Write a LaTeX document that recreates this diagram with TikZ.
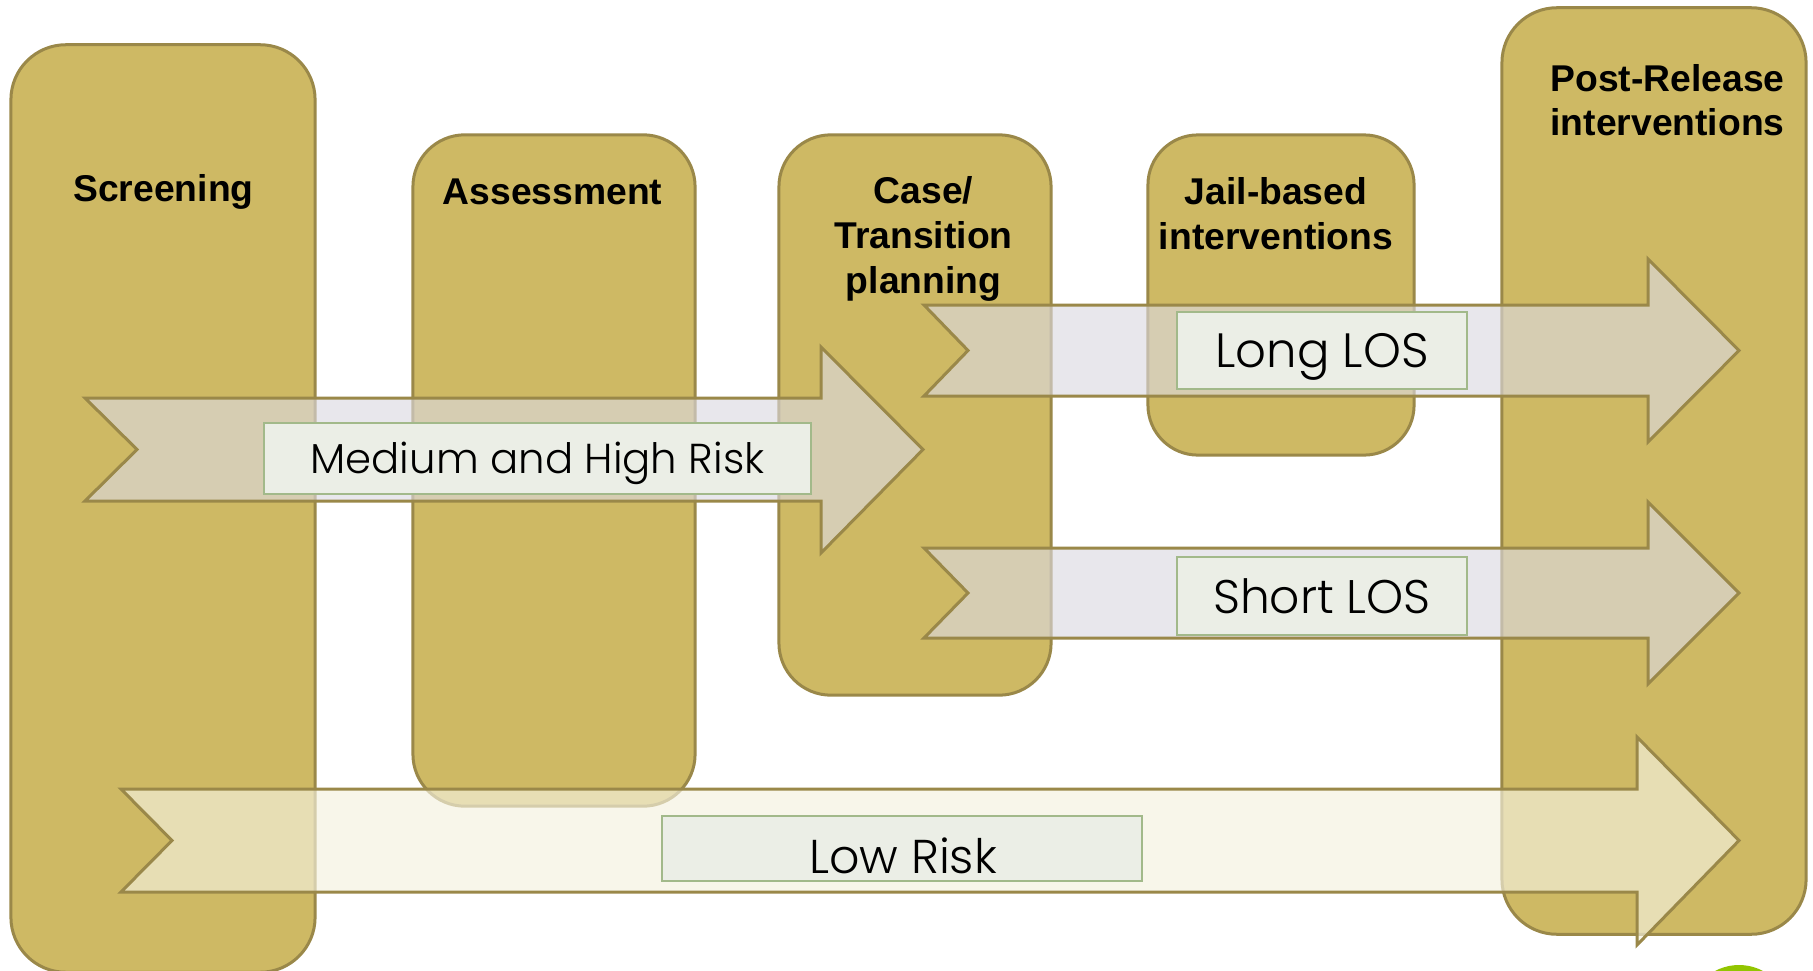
\documentclass[tikz,border=0pt]{standalone}
\usepackage{fontspec}
\setmainfont{Liberation Sans}
\newfontfamily\labelfont{Poppins Light}
\definecolor{tanfill}{HTML}{CEB964}
\definecolor{tanline}{HTML}{9A8849}
\definecolor{ribbonfill}{HTML}{DCD9E1}
\definecolor{lowfill}{HTML}{F5F2E0}
\definecolor{tagfill}{HTML}{EBEEE6}
\definecolor{tagline}{HTML}{A2B98A}
\definecolor{badge}{HTML}{92C500}
\tikzset{
  panel/.style={draw=tanline,fill=tanfill,line width=0.03cm,rectangle,inner sep=0pt},
  heading/.style={font=\fontsize{10.6pt}{12.66pt}\selectfont\bfseries,align=center,anchor=base,inner sep=0pt,text=black},
  ribbon/.style={draw=tanline,line width=0.03cm,fill=ribbonfill,fill opacity=0.63,miter limit=10},
  lowribbon/.style={ribbon,fill=lowfill,fill opacity=0.65},
  tag/.style={draw=tagline,fill=tagfill,line width=0.02cm,rectangle,inner sep=0pt},
  tagtext/.style={anchor=base,inner sep=0pt,text=black}
}
\newcommand{\arrowband}[9]{% style, tail, notch, barb, tip, headtop, shafttop, shaftbottom, headbottom
  \path[#1] (#2,#7) -- (#4,#7) -- (#4,#6) -- (#5,{(#7+#8)/2}) -- (#4,#9) -- (#4,#8) -- (#2,#8) -- (#3,{(#7+#8)/2}) -- cycle;}
\begin{document}
\begin{tikzpicture}[x=0.01cm,y=-0.01cm]
\useasboundingbox (0,0) rectangle (1813,970);
\clip (0,0) rectangle (1813,970);
\fill[white] (0,0) rectangle (1813,970);
\fill[badge] (1739,1016) circle (51);
\node[panel,rounded corners=0.55cm,minimum width=3.04cm,minimum height=9.27cm] (screening) at (163,508.5) {};
\node[panel,rounded corners=0.52cm,minimum width=2.82cm,minimum height=6.71cm] (assessment) at (554,470.5) {};
\node[panel,rounded corners=0.52cm,minimum width=2.72cm,minimum height=5.60cm] (caseplan) at (915,415) {};
\node[panel,rounded corners=0.50cm,minimum width=2.66cm,minimum height=3.20cm] (jail) at (1281,295) {};
\node[panel,rounded corners=0.55cm,minimum width=3.04cm,minimum height=9.26cm] (post) at (1654,471) {};
\node[heading] (h1) at (163.5,202) {Screening};
\node[heading] (h2) at (552.5,205) {Assessment};
\node[heading] (h3) at (923.5,293) {Case/\\Transition\\planning};
\node[heading] (h4) at (1276,249) {Jail-based\\interventions};
\node[heading] (h5) at (1667.5,136) {Post-Release\\interventions};
\arrowband{ribbon}{85}{137}{821}{923}{347}{398}{501}{553}
\arrowband{ribbon}{924}{968}{1648}{1739}{259}{305}{396}{442}
\arrowband{ribbon}{924}{968}{1648}{1739}{502}{548}{638}{684}
\arrowband{lowribbon}{121}{172}{1637}{1739}{737}{789}{892}{945}
\node[tag,minimum width=5.46cm,minimum height=0.71cm] (t1) at (537.5,458.5) {};
\node[tag,minimum width=2.90cm,minimum height=0.77cm] (t2) at (1322,350.5) {};
\node[tag,minimum width=2.90cm,minimum height=0.78cm] (t3) at (1322,596) {};
\node[tag,minimum width=4.80cm,minimum height=0.65cm] (t4) at (902,848.5) {};
\node[tagtext,font=\labelfont\fontsize{11.9pt}{14pt}\selectfont] (l1) at (537.5,473) {Medium and High Risk};
\node[tagtext,font=\labelfont\fontsize{13.7pt}{16pt}\selectfont] (l2) at (1322,367) {Long LOS};
\node[tagtext,font=\labelfont\fontsize{13.4pt}{16pt}\selectfont] (l3) at (1322,613.5) {Short LOS};
\node[tagtext,font=\labelfont\fontsize{13.5pt}{16pt}\selectfont] (l4) at (903,873) {Low Risk};
\end{tikzpicture}
\end{document}
